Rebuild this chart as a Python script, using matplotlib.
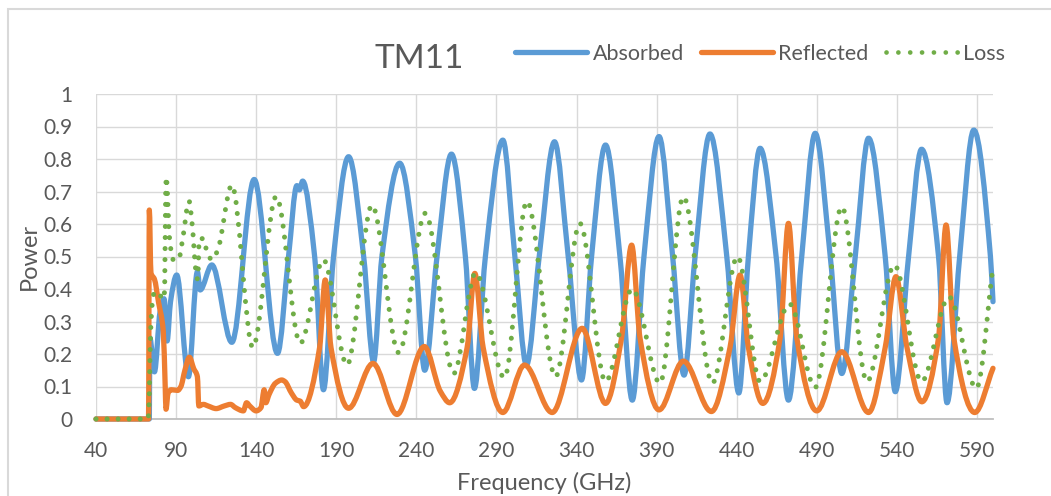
import numpy as np
import matplotlib
matplotlib.use("Agg")
import matplotlib.pyplot as plt
from matplotlib.path import Path
from matplotlib.patches import PathPatch, Rectangle
from matplotlib.lines import Line2D

plt.rcParams['font.family'] = ['Lato', 'DejaVu Sans']

# ---- data: frequency (GHz) and power for each series ----
absorbed_ghz = [40, 73.3, 73.6, 76.5, 80, 82.5, 84.4, 86.5, 90.4, 97.7, 103.3, 105,
                112.3, 124.8, 138.75, 153.3, 160.2, 165.4, 167, 169, 176.5, 182, 188.3,
                197.7, 207.1, 213.3, 218.5, 229.6, 239.4, 245.2, 252.9, 261.9, 270.6,
                276.25, 283.1, 294, 301.5, 308.75, 316.7, 326.25, 334.8, 343.1, 349.4,
                358.1, 367.1, 374.8, 382.1, 391.5, 400, 407.1, 414, 423.3, 433.8, 441.3,
                447.3, 454.6, 464.6, 472.3, 480.6, 489, 498.4, 505.6, 514, 522.3, 532.7,
                539, 547.3, 555.4, 566, 571.3, 579.2, 588, 598.4, 600]
absorbed = [0, 0, 0.25, 0.145, 0.33, 0.37, 0.24, 0.36, 0.443, 0.13, 0.453, 0.397,
            0.474, 0.236, 0.737, 0.202, 0.5, 0.718, 0.705, 0.732, 0.5, 0.09, 0.5,
            0.807, 0.5, 0.176, 0.5, 0.787, 0.5, 0.15, 0.5, 0.815, 0.5,
            0.094, 0.5, 0.858, 0.5, 0.166, 0.5, 0.853, 0.5, 0.12, 0.5,
            0.843, 0.5, 0.058, 0.5, 0.869, 0.5, 0.135, 0.5, 0.877, 0.5, 0.08,
            0.5, 0.833, 0.5, 0.058, 0.5, 0.879, 0.5, 0.14, 0.5, 0.864, 0.5,
            0.084, 0.5, 0.83, 0.5, 0.05, 0.5, 0.889, 0.5, 0.361]

reflected_ghz = [40, 72.8, 73.3, 74.3, 76.5, 79, 82, 83.2, 83.7, 85, 87, 91, 93, 95.5,
                 98.3, 101, 103.3, 104.2, 107, 110, 115, 120, 124, 127, 132, 134, 136,
                 140, 143, 145, 146, 148, 152, 156, 158, 162, 165.4, 167.5, 169.6,
                 179.6, 183.1, 186.7, 197.7, 212.9, 227.9, 245, 255, 260.8, 271.7,
                 276.5, 281.7, 294, 307.5, 324.8, 343.5, 358.1, 368.1, 374.4, 379.6,
                 391.5, 406.7, 424.2, 435.8, 442.1, 447.3, 456.3, 467.1, 472.3, 477.5,
                 490, 505.6, 522.3, 532.7, 539.4, 546.3, 555.6, 566, 570.7, 575.5,
                 588.6, 600]
reflected = [0, 0, 0.643, 0.45, 0.43, 0.36, 0.27, 0.1, 0.03, 0.08, 0.09, 0.088, 0.1, 0.15,
             0.19, 0.155, 0.13, 0.04, 0.045, 0.04, 0.032, 0.04, 0.045, 0.035, 0.025, 0.05, 0.04,
             0.025, 0.035, 0.09, 0.05, 0.075, 0.11, 0.12, 0.115, 0.08, 0.058, 0.055, 0.038,
             0.22, 0.428, 0.22, 0.033, 0.171, 0.014, 0.223, 0.085, 0.05, 0.22,
             0.448, 0.22, 0.02, 0.166, 0.02, 0.279, 0.048, 0.25, 0.535, 0.25,
             0.028, 0.178, 0.023, 0.22, 0.443, 0.22, 0.048, 0.25, 0.602, 0.25,
             0.025, 0.207, 0.02, 0.22, 0.438, 0.22, 0.053, 0.25, 0.597, 0.25,
             0.02, 0.156]

loss_ghz = [40, 72.5, 73, 73.5, 74, 75, 76.5, 79, 81.5, 82.6, 83.8, 86, 88.3, 91.5, 94,
            98.1, 100, 102.5, 103.5, 104.5, 107, 109, 112.3, 116, 124.8, 137.9, 152.5,
            167.5, 182, 196.7, 212.3, 229, 245.6, 263.3, 277, 295, 309, 326.9, 342.1,
            358.1, 374.8, 392.1, 406.7, 424.8, 440.5, 454.6, 473, 489, 505.6, 521.3,
            538.4, 555.4, 572.5, 589.6, 600]
loss = [0, 0, 0.03, 0.13, 0.25, 0.35, 0.39, 0.39, 0.37, 0.37, 0.745, 0.55, 0.49, 0.49, 0.55,
        0.67, 0.6, 0.45, 0.43, 0.555, 0.555, 0.52, 0.49, 0.52, 0.72, 0.22, 0.685,
        0.233, 0.49, 0.166, 0.658, 0.204, 0.633, 0.14, 0.45, 0.127, 0.67, 0.13, 0.602,
        0.115, 0.40, 0.11, 0.684, 0.11, 0.50, 0.115, 0.354, 0.097, 0.653, 0.115,
        0.474, 0.115, 0.376, 0.094, 0.469]

freq_ticks = [40, 90, 140, 190, 240, 290, 340, 390, 440, 490, 540, 590]
power_ticks = [0, 0.1, 0.2, 0.3, 0.4, 0.5, 0.6, 0.7, 0.8, 0.9, 1]
power_labels = ['0', '0.1', '0.2', '0.3', '0.4', '0.5', '0.6', '0.7', '0.8', '0.9', '1']

BLUE, ORANGE, GREEN = '#5B9BD5', '#ED7D31', '#70AD47'
TEXT = '#595959'
GRID = '#D9D9D9'
DOTS = (0, (0.01, 2.2))


def smoothed_path(xs, ys):
    """Smoothed line through the points (monotone cubic Bezier segments)."""
    x = np.asarray(xs, float)
    y = np.asarray(ys, float)
    h = np.diff(x)
    d = np.diff(y) / h
    m = np.zeros_like(x)
    for i in range(1, len(x) - 1):
        if d[i - 1] * d[i] > 0:
            w1 = 2 * h[i] + h[i - 1]
            w2 = h[i] + 2 * h[i - 1]
            m[i] = (w1 + w2) / (w1 / d[i - 1] + w2 / d[i])
    m[0], m[-1] = d[0], d[-1]
    verts = [(x[0], y[0])]
    codes = [Path.MOVETO]
    for i in range(len(x) - 1):
        verts += [(x[i] + h[i] / 3, y[i] + m[i] * h[i] / 3),
                  (x[i + 1] - h[i] / 3, y[i + 1] - m[i + 1] * h[i] / 3),
                  (x[i + 1], y[i + 1])]
        codes += [Path.CURVE4] * 3
    return Path(verts, codes)


fig = plt.figure(figsize=(10.51, 4.96), dpi=100)
W, H = 1051, 496
ax = fig.add_axes([96 / W, 1 - 419 / H, (993 - 96) / W, (419 - 94) / H])

ax.set_xlim(40, 600)
ax.set_ylim(0, 1)
ax.set_xticks(freq_ticks)
ax.set_xticklabels([str(t) for t in freq_ticks])
ax.set_yticks(power_ticks)
ax.set_yticklabels(power_labels)
ax.tick_params(length=0, labelsize=15, labelcolor=TEXT)
ax.tick_params(axis='x', pad=16)
ax.tick_params(axis='y', pad=17)
ax.grid(True, color=GRID, lw=1.0)
ax.set_axisbelow(True)
for s in ['top', 'right', 'left']:
    ax.spines[s].set_visible(False)
ax.spines['bottom'].set_color('#BFBFBF')
ax.spines['bottom'].set_linewidth(1.3)

series_style = [
    (absorbed_ghz, absorbed, BLUE, 3.8, 'solid'),
    (reflected_ghz, reflected, ORANGE, 3.8, 'solid'),
    (loss_ghz, loss, GREEN, 3.6, DOTS),
]
for z, (gx, py, col, lw, ls) in enumerate(series_style):
    patch = PathPatch(smoothed_path(gx, py), facecolor='none', edgecolor=col,
                      lw=lw, linestyle=ls, capstyle='round', joinstyle='round',
                      clip_on=False, zorder=3 + z)
    ax.add_patch(patch)

fig.text(419.5 / W, 1 - 59 / H, 'TM11', ha='center', va='center',
         fontsize=24, color=TEXT)
fig.text(544.5 / W, 1 - 483 / H, 'Frequency (GHz)', ha='center', va='center',
         fontsize=17, color=TEXT)
fig.text(29 / W, 1 - 256 / H, 'Power', ha='center', va='center', rotation=90,
         fontsize=17, color=TEXT)

handles = [Line2D([], [], color=BLUE, lw=3.8, solid_capstyle='round'),
           Line2D([], [], color=ORANGE, lw=3.8, solid_capstyle='round'),
           Line2D([], [], color=GREEN, lw=3.4, linestyle=(0, (0.01, 2.5)),
                  dash_capstyle='round')]
fig.legend(handles, ['Absorbed', 'Reflected', 'Loss'], loc='center left',
           bbox_to_anchor=(515 / W, 1 - 54 / H), ncol=3, frameon=False,
           fontsize=15.5, labelcolor=TEXT, handlelength=3.35, handletextpad=0.25,
           columnspacing=0.8, borderpad=0, borderaxespad=0)

fig.add_artist(Rectangle((8 / W, -0.1), 1.2, 1 - 9 / H + 0.1, transform=fig.transFigure,
                         fill=False, edgecolor=GRID, lw=1.5))

fig.savefig('out.png', dpi=100)
